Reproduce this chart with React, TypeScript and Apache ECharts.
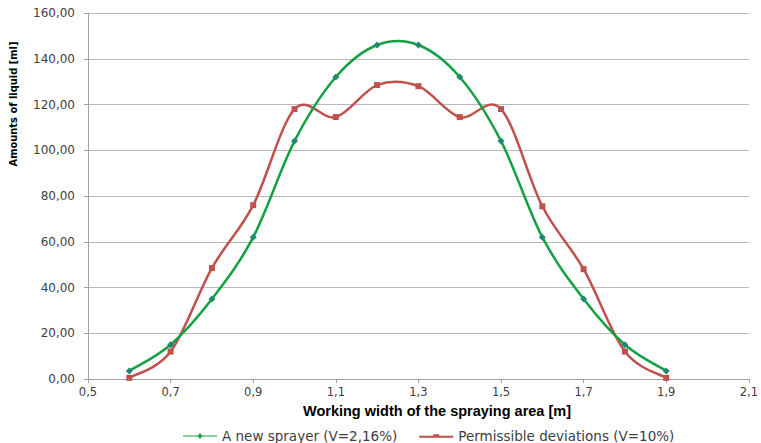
import React, { useEffect, useRef } from "react";
import * as echarts from "echarts";

const xValues = [0.6, 0.7, 0.8, 0.9, 1.0, 1.1, 1.2, 1.3, 1.4, 1.5, 1.6, 1.7, 1.8, 1.9];
const newSprayer = [3.5, 15, 35, 62, 104, 132, 146, 146, 132, 104, 62, 35, 15, 3.5];
const permissible = [0.5, 12, 48.5, 76, 118, 114.5, 128.5, 128, 114.5, 118, 75.5, 48, 12, 0.5];
const seriesNames = ["A new sprayer (V=2,16%)", "Permissible deviations (V=10%)"];
const xTitle = "Working width of the spraying area [m]";
const yTitle = "Amounts of liquid [ml]";

const labelFont = "DejaVu Sans, Verdana, sans-serif";
const boldFont = "Liberation Sans, Arial, sans-serif";
const narrowFont = "Liberation Sans Narrow, DejaVu Sans Condensed, sans-serif";

const GREEN = "#14a044";
const GREEN_MARK = "#1f8a6e";
const RED = "#c0504d";

function splineRenderer(values: number[], color: string) {
  return (params: any, api: any) => {
    if (params.dataIndex !== 0) return null;
    const pts = xValues.map((x, i) => api.coord([x, values[i]]));
    const n = pts.length;
    let d = `M${pts[0][0]},${pts[0][1]}`;
    for (let i = 0; i < n - 1; i++) {
      const p0 = pts[Math.max(i - 1, 0)];
      const p1 = pts[i];
      const p2 = pts[i + 1];
      const p3 = pts[Math.min(i + 2, n - 1)];
      const c1x = p1[0] + (p2[0] - p0[0]) / 6;
      const c1y = p1[1] + (p2[1] - p0[1]) / 6;
      const c2x = p2[0] - (p3[0] - p1[0]) / 6;
      const c2y = p2[1] - (p3[1] - p1[1]) / 6;
      d += ` C${c1x},${c1y} ${c2x},${c2y} ${p2[0]},${p2[1]}`;
    }
    return {
      type: "path",
      shape: { pathData: d },
      style: { stroke: color, lineWidth: 2.5, fill: "none" },
      silent: true,
    };
  };
}

export default function App() {
  const ref = useRef<HTMLDivElement>(null);
  useEffect(() => {
    if (!ref.current) return;
    const chart = echarts.init(ref.current, null, { renderer: "svg" });
    const greenData = xValues.map((x, i) => [x, newSprayer[i]]);
    const redData = xValues.map((x, i) => [x, permissible[i]]);
    chart.setOption({
      animation: false,
      backgroundColor: "#ffffff",
      grid: { left: 88, right: 10, top: 13, bottom: 64, containLabel: false },
      legend: {
        left: 178,
        top: 424,
        itemWidth: 34,
        itemHeight: 8,
        itemGap: 22,
        textStyle: { fontFamily: labelFont, fontSize: 13.5, color: "#404040" },
        data: [
          {
            name: seriesNames[0],
            icon: "path://M0,3.4 L15,3.4 L17,1 L19,3.4 L34,3.4 L34,4.6 L19,4.6 L17,7 L15,4.6 L0,4.6 Z",
            itemStyle: { color: GREEN },
          },
          {
            name: seriesNames[1],
            icon: "path://M0,3 L14,3 L14,1.5 L20,1.5 L20,3 L34,3 L34,5 L0,5 Z",
            itemStyle: { color: RED },
          },
        ],
      },
      graphic: [
        {
          type: "text",
          x: 13,
          y: 104,
          rotation: Math.PI / 2,
          style: {
            text: yTitle,
            fontFamily: narrowFont,
            fontWeight: "bold",
            fontSize: 11,
            fill: "#000000",
            align: "center",
            verticalAlign: "middle",
          },
        },
        {
          type: "text",
          x: 437,
          y: 411,
          style: {
            text: xTitle,
            fontFamily: boldFont,
            fontWeight: "bold",
            fontSize: 14.5,
            fill: "#000000",
            align: "center",
            verticalAlign: "middle",
          },
        },
      ],
      xAxis: {
        type: "value",
        min: 0.5,
        max: 2.1,
        interval: 0.2,
        axisLine: { lineStyle: { color: "#a0a0a0" } },
        axisTick: { show: true, length: 4, lineStyle: { color: "#a0a0a0" } },
        axisLabel: {
          fontFamily: labelFont,
          fontSize: 11.5,
          color: "#404040",
          margin: 7,
          formatter: (v: number) => v.toFixed(1).replace(".", ","),
        },
        splitLine: { show: false },
      },
      yAxis: {
        type: "value",
        min: 0,
        max: 160,
        interval: 20,
        axisLine: { show: true, lineStyle: { color: "#a0a0a0" } },
        axisTick: { show: true, length: 4, lineStyle: { color: "#a0a0a0" } },
        axisLabel: {
          fontFamily: labelFont,
          fontSize: 12,
          color: "#404040",
          margin: 13,
          formatter: (v: number) => v.toFixed(2).replace(".", ","),
        },
        splitLine: { show: true, lineStyle: { color: "#b8b8b8", width: 1 } },
      },
      series: [
        {
          name: seriesNames[1],
          type: "custom",
          renderItem: splineRenderer(permissible, RED),
          data: redData,
          encode: { x: 0, y: 1 },
          itemStyle: { color: RED },
          z: 2,
        },
        {
          name: seriesNames[0],
          type: "custom",
          renderItem: splineRenderer(newSprayer, GREEN),
          data: greenData,
          encode: { x: 0, y: 1 },
          itemStyle: { color: GREEN },
          z: 3,
        },
        {
          name: seriesNames[1],
          type: "scatter",
          data: redData,
          symbol: "rect",
          symbolSize: 6,
          itemStyle: { color: RED, opacity: 1 },
          z: 4,
        },
        {
          name: seriesNames[0],
          type: "scatter",
          data: greenData,
          symbol: "diamond",
          symbolSize: 7,
          itemStyle: { color: GREEN_MARK, opacity: 1 },
          z: 5,
        },
      ],
    });
    return () => chart.dispose();
  }, []);
  return (
    <div
      ref={ref}
      style={{ position: "absolute", left: 0, top: 0, width: 761, height: 443 }}
    />
  );
}
